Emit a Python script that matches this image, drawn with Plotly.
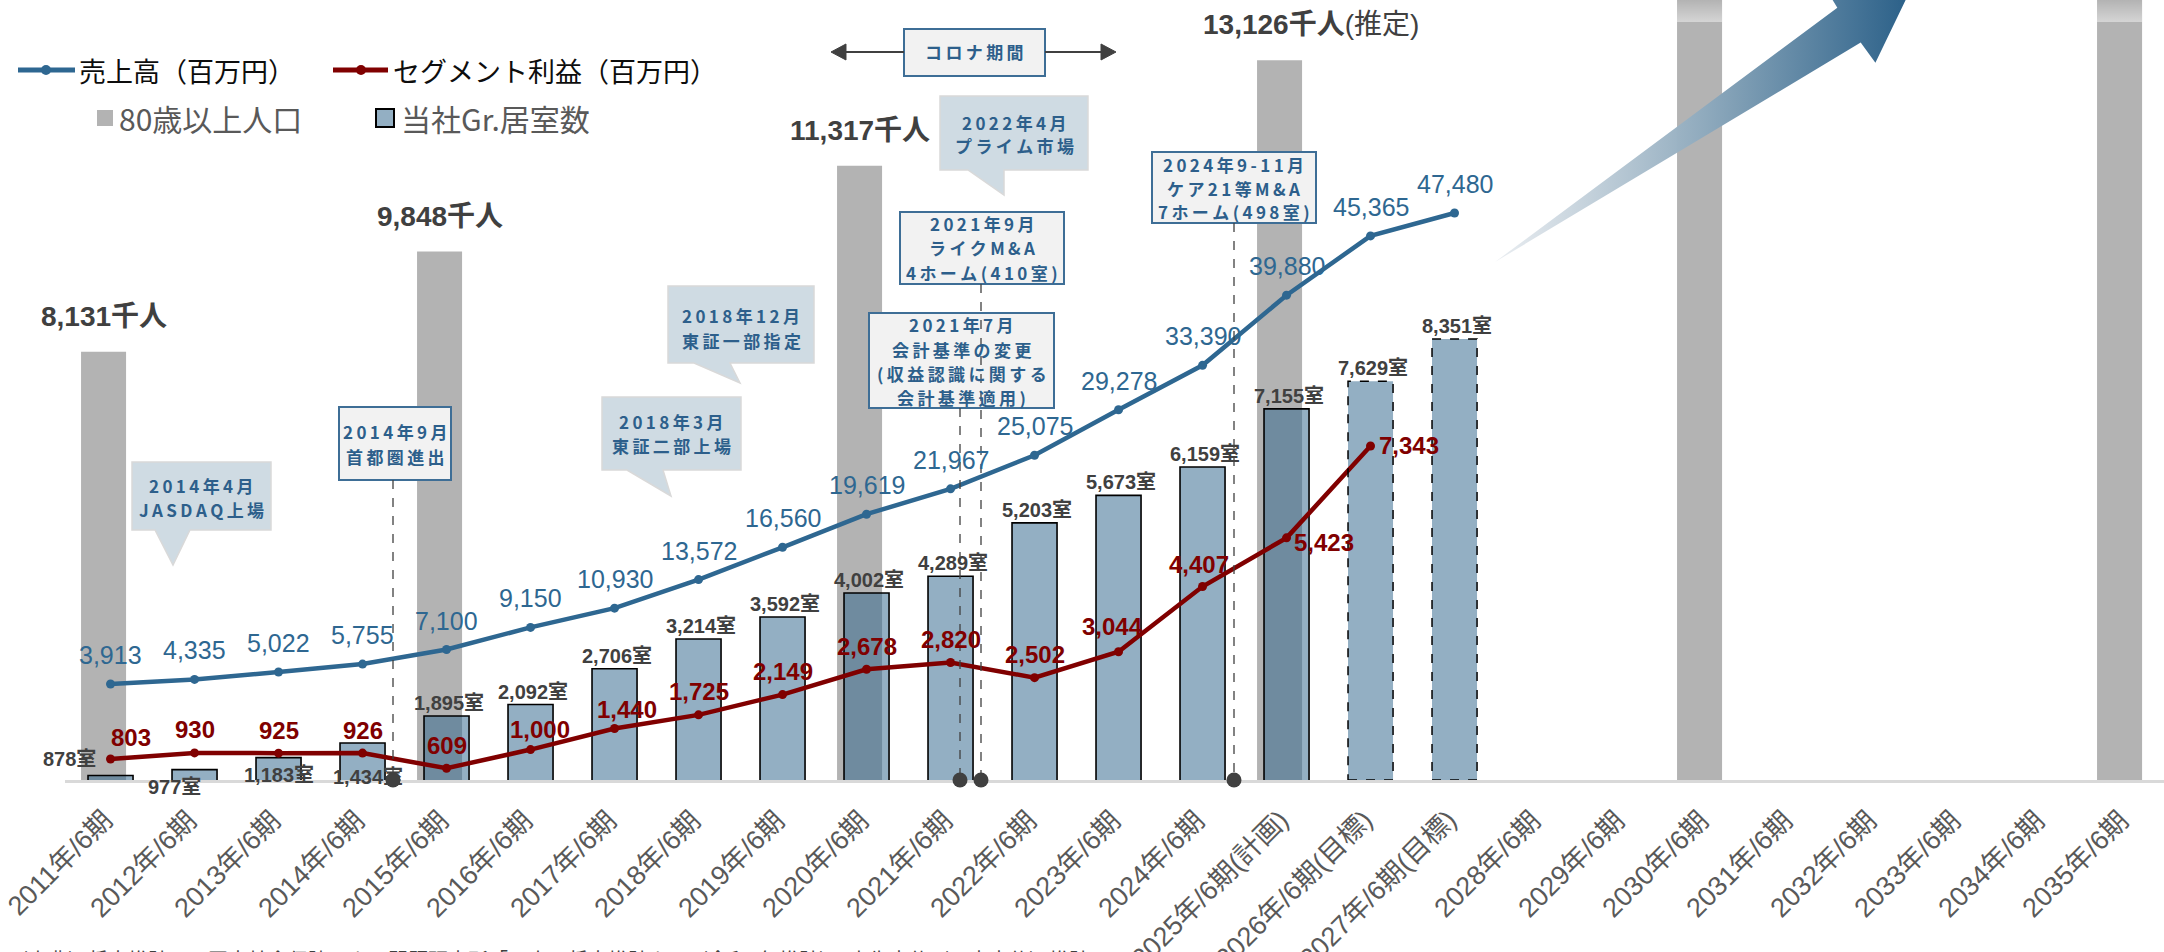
import plotly.graph_objects as go

# ---------------- data ----------------
categories = ["2011年/6期", "2012年/6期", "2013年/6期", "2014年/6期", "2015年/6期",
              "2016年/6期", "2017年/6期", "2018年/6期", "2019年/6期", "2020年/6期",
              "2021年/6期", "2022年/6期", "2023年/6期", "2024年/6期", "2025年/6期(計画)",
              "2026年/6期(目標)", "2027年/6期(目標)", "2028年/6期", "2029年/6期", "2030年/6期",
              "2031年/6期", "2032年/6期", "2033年/6期", "2034年/6期", "2035年/6期"]

pop_categories = ["2011年/6期", "2015年/6期", "2020年/6期", "2025年/6期(計画)", "2030年/6期", "2035年/6期"]
pop_values = [8131, 9848, 11317, 13126, 15000, 16000]   # 千人 (last two run past the top)
pop_labels = ["8,131千人", "9,848千人", "11,317千人", "13,126千人"]

room_categories = categories[:17]
room_values = [878, 977, 1183, 1434, 1895, 2092, 2706, 3214, 3592, 4002, 4289,
               5203, 5673, 6159, 7155, 7629, 8351]

sales_categories = categories[:17]
sales_values = [3913, 4335, 5022, 5755, 7100, 9150, 10930, 13572, 16560, 19619,
                21967, 25075, 29278, 33390, 39880, 45365, 47480]

profit_categories = categories[:16]
profit_values = [803, 930, 925, 926, 609, 1000, 1440, 1725, 2149, 2678, 2820,
                 2502, 3044, 4407, 5423, 7343]

# ---------------- styles ----------------
FONT_NUM = "Liberation Sans, Arial, Noto Sans CJK JP, sans-serif"
FONT_JP = "Noto Sans CJK JP, Liberation Sans, sans-serif"
SALES_C = "#2E6791"
PROFIT_C = "#800000"
GREY_C = "#B3B3B3"
ROOM_C = "rgba(51,104,141,0.53)"
BOX_TXT = "#2D5F8B"
BOX_LINE = "#3E6E96"
BOX_FILL = "#F2F2F2"
CALL_FILL = "#CFDBE3"
DARK = "#404040"

W, H = 2164, 952
PL, PR, PT, PB = 65, 2164, 0, 780
X_RANGE = [-0.542, 24.446]
Y_BAR = [800, 14156]
Y_SALES = [-4968, 67187]
Y_PROFIT = [364, 16661]
BAR_W = 0.536
GREY_OFF = -0.351
BLUE_OFF = -0.268
STEP = (PR - PL) / (X_RANGE[1] - X_RANGE[0])


def fx(px):
    return (px - PL) / (PR - PL)


def fy(py):
    return (PB - py) / (PB - PT)


def cat_px(i):
    return PL + (i - X_RANGE[0]) * STEP


def spaced(s):
    return "\u2009".join(s).replace("&", "&amp;")


fig = go.Figure()

# population bars
fig.add_trace(go.Bar(x=pop_categories, y=pop_values, width=BAR_W, offset=GREY_OFF,
                     marker=dict(color=GREY_C, line=dict(width=0)), hoverinfo="skip"))

# room bars
planned = [c.endswith("(目標)") for c in room_categories]
fig.add_trace(go.Bar(x=room_categories, y=room_values, width=BAR_W, offset=BLUE_OFF,
                     marker=dict(color=ROOM_C,
                                 line=dict(color="black", width=[0 if p else 1.6 for p in planned])),
                     hoverinfo="skip"))

# sales line
fig.add_trace(go.Scatter(x=sales_categories, y=sales_values, yaxis="y2", mode="lines+markers",
                         line=dict(color=SALES_C, width=4.5), marker=dict(size=9, color=SALES_C),
                         hoverinfo="skip"))
# profit line
fig.add_trace(go.Scatter(x=profit_categories, y=profit_values, yaxis="y3", mode="lines+markers",
                         line=dict(color=PROFIT_C, width=4.5), marker=dict(size=9, color=PROFIT_C),
                         hoverinfo="skip"))

# fade at the top of bars that run past the top
for c, v in zip(pop_categories, pop_values):
    if v > Y_BAR[1]:
        i = categories.index(c)
        x0 = cat_px(i) + GREY_OFF * STEP
        x1 = x0 + BAR_W * STEP
        fig.add_trace(go.Scatter(x=[x0, x1, x1, x0, x0], y=[0, 0, 22, 22, 0], xaxis="x2", yaxis="y4",
                                 mode="lines", line=dict(width=0), fill="toself",
                                 fillgradient=dict(type="vertical",
                                                   colorscale=[[0, "rgba(255,255,255,0.45)"],
                                                               [1, "rgba(255,255,255,0)"]]),
                                 hoverinfo="skip"))

# big gradient arrow (decoration, pixel space)
tx, ty = 1495, 262
ux, uy = 0.831, -0.556
vx, vy = 0.556, 0.831
arrow_ap = [(0, 0), (426, -21), (427, -46), (505, 0), (427, 46), (426, 21), (0, 0)]
ax_ = [tx + a * ux + p * vx for a, p in arrow_ap]
ay_ = [ty + a * uy + p * vy for a, p in arrow_ap]
fig.add_trace(go.Scatter(x=ax_, y=ay_, xaxis="x2", yaxis="y4", mode="lines", line=dict(width=0),
                         fill="toself",
                         fillgradient=dict(type="horizontal",
                                           colorscale=[[0, "rgba(232,236,240,0.9)"], [0.5, "#8FAABD"],
                                                       [1, "#285E87"]]),
                         hoverinfo="skip"))

shapes = []
annotations = []

# dashed outline for target bars
for i, (c, v) in enumerate(zip(room_categories, room_values)):
    if planned[i]:
        shapes.append(dict(type="rect", xref="x", yref="y", x0=i + BLUE_OFF, x1=i + BLUE_OFF + BAR_W,
                           y0=Y_BAR[0], y1=v, line=dict(color="black", width=1.5, dash="dash"),
                           fillcolor="rgba(0,0,0,0)", layer="above"))

# ---- category labels (rotated) ----
for c in categories:
    annotations.append(dict(x=c, y=fy(802), xref="x", yref="paper", text=c, showarrow=False,
                            textangle=-45, xanchor="right", yanchor="top", xshift=11,
                            font=dict(family=FONT_NUM, size=27, color="#595959")))

# ---- value labels ----
for c, v, t in zip(pop_categories, pop_values, pop_labels):
    if t.startswith("13,126"):
        annotations.append(dict(x=c, y=v, xref="x", yref="y", text="<b>" + t + "</b>(推定)",
                                showarrow=False, xanchor="left", yanchor="middle", xshift=-86, yshift=36,
                                font=dict(family=FONT_NUM, size=28, color=DARK)))
    else:
        annotations.append(dict(x=c, y=v, xref="x", yref="y", text="<b>" + t + "</b>",
                                showarrow=False, xanchor="center", yanchor="middle", xshift=-7, yshift=35,
                                font=dict(family=FONT_NUM, size=28, color=DARK)))

room_shift = {0: (-41, 16), 1: (-20, -17), 2: (0, -17), 3: (5, -34)}
for i, (c, v) in enumerate(zip(room_categories, room_values)):
    xs, ys = room_shift.get(i, (2, 13))
    annotations.append(dict(x=c, y=v, xref="x", yref="y", text="<b>{:,}室</b>".format(v),
                            showarrow=False, xanchor="center", yanchor="middle", xshift=xs, yshift=ys,
                            font=dict(family=FONT_NUM, size=20, color=DARK)))

for c, v in zip(sales_categories, sales_values):
    annotations.append(dict(x=c, y=v, xref="x", yref="y2", text="{:,}".format(v),
                            showarrow=False, xanchor="center", yanchor="middle", yshift=29,
                            font=dict(family=FONT_NUM, size=25, color=SALES_C)))

profit_shift = {0: ("center", 20, 21), 5: ("center", 9, 20), 6: ("center", 12, 19),
                12: ("center", -6, 25), 13: ("center", -4, 22),
                14: ("left", 5, -5), 15: ("left", 6, 0)}
for i, (c, v) in enumerate(zip(profit_categories, profit_values)):
    xa, xs, ys = profit_shift.get(i, ("center", 0, 23))
    annotations.append(dict(x=c, y=v, xref="x", yref="y3", text="<b>{:,}</b>".format(v),
                            showarrow=False, xanchor=xa, yanchor="middle", xshift=xs, yshift=ys,
                            font=dict(family=FONT_NUM, size=24, color=PROFIT_C)))


# ---- helpers for decorations (pixel -> paper) ----
def hline(x0, x1, y, color, w, dash=None):
    d = dict(type="line", xref="paper", yref="paper", x0=fx(x0), x1=fx(x1), y0=fy(y), y1=fy(y),
             line=dict(color=color, width=w))
    if dash:
        d["line"]["dash"] = dash
    return d


def vline(x, y0, y1, color, w, dash=None):
    d = dict(type="line", xref="paper", yref="paper", x0=fx(x), x1=fx(x), y0=fy(y0), y1=fy(y1),
             line=dict(color=color, width=w))
    if dash:
        d["line"]["dash"] = dash
    return d


def circ(x, y, r, color):
    return dict(type="circle", xref="paper", yref="paper", x0=fx(x - r), x1=fx(x + r),
                y0=fy(y + r), y1=fy(y - r), fillcolor=color, line=dict(width=0))


def rect(x0, y0, x1, y1, fill, lc=None, lw=0):
    return dict(type="rect", xref="paper", yref="paper", x0=fx(x0), x1=fx(x1), y0=fy(y1), y1=fy(y0),
                fillcolor=fill, line=dict(color=lc or fill, width=lw))


def path(pts, fill, lc, lw):
    p = "M " + " L ".join("{:.5f},{:.5f}".format(fx(a), fy(b)) for a, b in pts) + " Z"
    return dict(type="path", xref="paper", yref="paper", path=p, fillcolor=fill,
                line=dict(color=lc, width=lw))


def text(x, y, t, size, color, family=FONT_JP, xanchor="center"):
    annotations.append(dict(x=fx(x), y=fy(y), xref="paper", yref="paper", text=t, showarrow=False,
                            xanchor=xanchor, yanchor="middle", font=dict(family=family, size=size, color=color)))


# ---- legend (manual) ----
shapes.append(hline(18, 75, 70, SALES_C, 5))
shapes.append(circ(46, 70, 5, SALES_C))
text(77, 70, "売上高（百万円）", 27, "#0D0D0D", xanchor="left")
shapes.append(hline(333, 388, 70, PROFIT_C, 5))
shapes.append(circ(361, 70, 5, PROFIT_C))
text(391, 70, "セグメント利益（百万円）", 27, "#0D0D0D", xanchor="left")
shapes.append(rect(97, 110, 113, 126, GREY_C))
text(117, 118, "80歳以上人口", 30, "#595959", xanchor="left")
shapes.append(rect(376, 109, 394, 127, "#93AFC3", "black", 2))
text(399, 118, "当社Gr.居室数", 30, "#595959", xanchor="left")


# ---- boxes & callouts ----
def box(x0, y0, x1, y1, lines, ys, stem=None):
    shapes.append(rect(x0, y0, x1, y1, BOX_FILL, BOX_LINE, 2))
    cx = (x0 + x1) / 2
    for t, yy in zip(lines, ys):
        text(cx, yy, "<b>" + spaced(t) + "</b>", 17, BOX_TXT)
    if stem is not None:
        shapes.append(vline(stem, y1, 780, DARK, 1.3, "dash"))
        shapes.append(circ(stem, 780, 7.5, DARK))


def callout(x0, y0, x1, y1, tb0, tb1, tip, lines, ys):
    shapes.append(path([(x0, y0), (x1, y0), (x1, y1), (tb1, y1), tip, (tb0, y1), (x0, y1)],
                       CALL_FILL, "#D9D9D9", 1.5))
    cx = (x0 + x1) / 2
    for t, yy in zip(lines, ys):
        text(cx, yy, "<b>" + spaced(t) + "</b>", 17, BOX_TXT)


callout(132, 462, 271, 530, 155, 190, (173, 565), ["2014年4月", "JASDAQ上場"], [485, 509])
callout(602, 397, 741, 470, 627, 663, (671, 496), ["2018年3月", "東証二部上場"], [421, 445])
callout(668, 286, 814, 363, 694, 730, (740, 383), ["2018年12月", "東証一部指定"], [315, 340])
callout(940, 96, 1088, 170, 968, 1004, (1004, 195), ["2022年4月", "プライム市場"], [122, 145])

box(339, 407, 451, 480, ["2014年9月", "首都圏進出"], [431, 457], stem=393)
box(869, 313, 1054, 408, ["2021年7月", "会計基準の変更", "(収益認識に関する", "会計基準適用)"],
    [325, 349, 373, 397], stem=960)
box(900, 212, 1064, 284, ["2021年9月", "ライクM&A", "4ホーム(410室)"], [224, 248, 272], stem=981)
box(1152, 152, 1316, 223, ["2024年9-11月", "ケア21等M&A", "7ホーム(498室)"], [164, 188, 211],
    stem=1234)
box(904, 29, 1045, 76, ["コロナ期間"], [52])

# corona period arrows
shapes.append(hline(844, 904, 52, DARK, 2))
shapes.append(path([(831, 52), (846, 44), (846, 60)], DARK, DARK, 1))
shapes.append(hline(1045, 1103, 52, DARK, 2))
shapes.append(path([(1116, 52), (1101, 44), (1101, 60)], DARK, DARK, 1))

# footnote (cut off at the bottom edge, as in the source)
text(6, 959, "（出典）将来推計は、国立社会保障・人口問題研究所「日本の将来推計人口（令和5年推計）」出生中位（死亡中位）推計",
     20, DARK, xanchor="left")

fig.update_layout(
    width=W, height=H,
    margin=dict(l=PL, r=W - PR, t=PT, b=H - PB, autoexpand=False),
    plot_bgcolor="white", paper_bgcolor="white",
    barmode="overlay", showlegend=False,
    xaxis=dict(type="category", categoryorder="array", categoryarray=categories,
               range=X_RANGE, showticklabels=False, ticks="", automargin=False,
               showline=True, linecolor="#D9D9D9", linewidth=3,
               showgrid=False, zeroline=False),
    yaxis=dict(range=Y_BAR, visible=False, automargin=False),
    yaxis2=dict(range=Y_SALES, overlaying="y", visible=False, automargin=False),
    yaxis3=dict(range=Y_PROFIT, overlaying="y", visible=False, automargin=False),
    xaxis2=dict(type="linear", range=[PL, PR], overlaying="x", visible=False, anchor="y4",
                automargin=False),
    yaxis4=dict(type="linear", range=[PB, PT], overlaying="y", visible=False, anchor="x2",
                automargin=False),
    shapes=shapes,
    annotations=annotations,
)

fig.write_html("out.html", config={"displayModeBar": False},
               post_script="document.body.style.margin='0';document.body.style.overflow='hidden';")
